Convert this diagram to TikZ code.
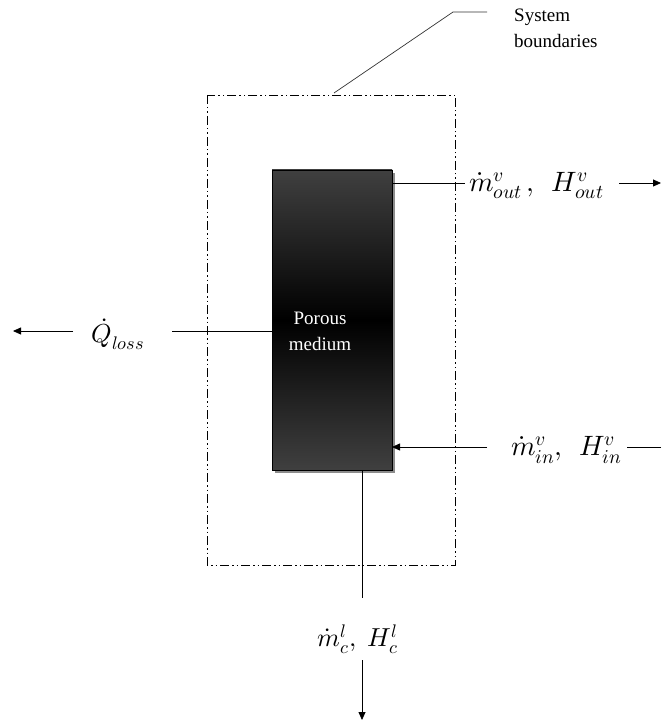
\documentclass[tikz,border=0pt]{standalone}
\usepackage{fontspec}
\setmainfont{Liberation Serif}
\usepackage{unicode-math}
\setmathfont{Latin Modern Math}
\usetikzlibrary{arrows.meta,shadows}
\begin{document}
\begin{tikzpicture}[x=1pt,y=-1pt,
  lbl/.style={font=\fontsize{19}{26}\selectfont, inner sep=1pt},
  mlbl/.style={font=\fontsize{26}{30}\selectfont, inner sep=1pt},
  wlbl/.style={font=\fontsize{28}{30}\selectfont, inner sep=1pt},
  conn/.style={line width=0.8pt},
  arr/.style={conn,-{Triangle[length=8pt,width=7pt]}},
  bound/.style={line width=0.8pt, dash pattern=on 9pt off 3pt on 1.5pt off 3pt on 1.5pt off 3pt}
]
\useasboundingbox (0,0) rectangle (661,727);
% boundary
\draw[bound] (207,95) rectangle (455,565);
\coordinate (bt) at (334,93);
\coordinate (lk) at (453,12);
\coordinate (le) at (487,12);
\draw[line width=0.7pt, gray!40!black] (bt) -- (lk) -- (le);
\node[lbl, align=left, anchor=north west] (sys) at (513,8) {System\\boundaries};
% porous medium
\fill[black!45] (275,173) rectangle (395,473);
\shade[top color=black!75, bottom color=black!75, middle color=black, draw=black, line width=0.5pt] (272,170) rectangle (392,470);
\node[lbl, text=white, align=center] (pm) at (320,331) {Porous\\medium};
% out flow
\coordinate (o1) at (392,183);
\coordinate (o2) at (465,183);
\draw[conn] (o1) -- (o2);
\node[wlbl, anchor=west] (out) at (468,186) {$\dot m^{v}_{out}\,,\;\,H^{v}_{out}$};
\coordinate (o3) at (619,183);
\coordinate (o4) at (661,183);
\draw[arr] (o3) -- (o4);
% heat loss
\coordinate (q1) at (272,331);
\coordinate (q2) at (172,331);
\draw[conn] (q1) -- (q2);
\node[mlbl] (q) at (118,334) {$\dot Q_{loss}$};
\coordinate (q3) at (73,331);
\coordinate (q4) at (13,331);
\draw[arr] (q3) -- (q4);
% in flow
\coordinate (i1) at (661,447);
\coordinate (i2) at (627,447);
\draw[conn] (i1) -- (i2);
\node[wlbl, anchor=east] (in) at (623,450) {$\dot m^{v}_{in},\;\,H^{v}_{in}$};
\coordinate (i3) at (487,447);
\coordinate (i4) at (392,447);
\draw[arr] (i3) -- (i4);
% condensate
\coordinate (c1) at (362,470);
\coordinate (c2) at (362,598);
\draw[conn] (c1) -- (c2);
\node[mlbl] (c) at (358,639) {$\dot m^{l}_{c},\;H^{l}_{c}$};
\coordinate (c3) at (362,660);
\coordinate (c4) at (362,720);
\draw[arr] (c3) -- (c4);
\end{tikzpicture}
\end{document}
